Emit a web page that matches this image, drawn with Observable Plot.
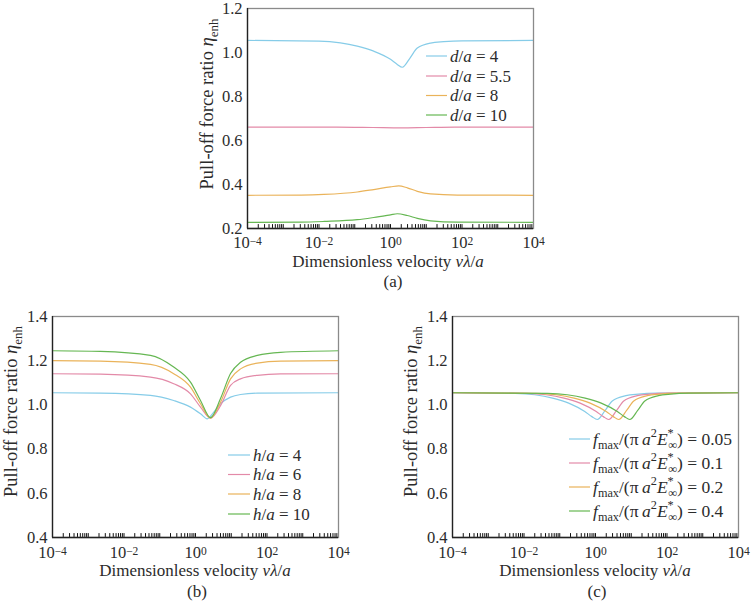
<!DOCTYPE html>
<html><head><meta charset="utf-8">
<script src="https://cdn.jsdelivr.net/npm/d3@7"></script>
<script src="https://cdn.jsdelivr.net/npm/@observablehq/plot@0.6"></script>
<style>
body{margin:0;background:#fff;}
#fig{position:relative;width:755px;height:603px;overflow:hidden;background:#fff;}
#fig svg{position:absolute;}
</style></head><body><div id="fig"></div>
<script>
// ---------- data ----------
const xTicks = [1e-4, 1e-2, 1, 1e2, 1e4];
const yTicksA = [0.2, 0.4, 0.6, 0.8, 1.0, 1.2];
const yTicksBC = [0.4, 0.6, 0.8, 1.0, 1.2, 1.4];
const seriesColors = ["#86cce8", "#e38aa8", "#eab35a", "#66b753"];

const legendA = ["4", "5.5", "8", "10"];     // d/a
const legendB = ["4", "6", "8", "10"];       // h/a
const legendC = ["0.05", "0.1", "0.2", "0.4"]; // f_max/(pi a^2 E*_inf)

// panel (a): [log10(v lambda / a), eta_enh]
const aD4  = [[-4,1.055],[-2,1.052],[-1.4,1.044],[-0.93,1.029],[-0.47,1.006],[0,0.969],[0.19,0.946],[0.33,0.933],[0.55,0.976],[0.75,1.02],[1.12,1.043],[1.49,1.049],[2,1.053],[4,1.055]];
const aD55 = [[-4,0.661],[-1.5,0.661],[-0.5,0.659],[0.3,0.657],[1,0.659],[1.8,0.661],[4,0.661]];
const aD8  = [[-4,0.351],[-2.5,0.352],[-1.86,0.355],[-0.93,0.366],[-0.47,0.377],[0,0.389],[0.23,0.394],[0.47,0.385],[0.75,0.369],[1.12,0.357],[1.87,0.352],[4,0.351]];
const aD10 = [[-4,0.228],[-2.5,0.229],[-1.86,0.232],[-0.93,0.24],[-0.47,0.25],[0,0.262],[0.19,0.267],[0.47,0.259],[0.75,0.246],[1.12,0.235],[1.87,0.229],[4,0.228]];

// panel (b)
const bH4  = [[-4,1.055],[-2.66,1.053],[-1.26,1.043],[-0.61,1.02],[-0.14,0.99],[0.14,0.96],[0.33,0.937],[0.5,0.965],[0.7,1.005],[0.98,1.035],[1.26,1.047],[1.73,1.053],[4,1.055]];
const bH6  = [[-4,1.141],[-2.66,1.139],[-1.26,1.126],[-0.61,1.096],[-0.14,1.05],[0.14,0.99],[0.42,0.94],[0.7,0.997],[0.98,1.088],[1.26,1.118],[1.73,1.134],[2.38,1.14],[4,1.141]];
const bH8  = [[-4,1.2],[-2.66,1.198],[-1.26,1.183],[-0.61,1.141],[-0.14,1.08],[0.14,1.005],[0.42,0.94],[0.7,1.012],[0.98,1.118],[1.26,1.163],[1.73,1.189],[2.38,1.198],[4,1.2]];
const bH10 = [[-4,1.245],[-2.66,1.242],[-1.26,1.224],[-0.61,1.171],[-0.14,1.103],[0.14,1.02],[0.42,0.942],[0.7,1.029],[0.98,1.142],[1.26,1.193],[1.73,1.224],[2.38,1.238],[4,1.245]];

// panel (c)
const cF005 = [[-4,1.055],[-2.25,1.052],[-1.7,1.046],[-1.2,1.031],[-0.75,1.008],[-0.3,0.97],[-0.1,0.947],[0.05,0.934],[0.27,0.975],[0.47,1.018],[0.85,1.042],[1.2,1.049],[1.7,1.053],[4,1.055]];
const cF01  = [[-4,1.055],[-1.93,1.052],[-1.38,1.046],[-0.88,1.031],[-0.43,1.008],[0.02,0.97],[0.22,0.947],[0.37,0.934],[0.59,0.975],[0.79,1.018],[1.17,1.042],[1.52,1.049],[2.02,1.053],[4,1.055]];
const cF02  = [[-4,1.055],[-1.65,1.052],[-1.1,1.046],[-0.6,1.031],[-0.15,1.008],[0.3,0.97],[0.5,0.947],[0.65,0.934],[0.87,0.975],[1.07,1.018],[1.45,1.042],[1.8,1.049],[2.3,1.053],[4,1.055]];
const cF04  = [[-4,1.055],[-1.34,1.052],[-0.79,1.046],[-0.29,1.031],[0.16,1.008],[0.61,0.97],[0.81,0.947],[0.96,0.934],[1.18,0.975],[1.38,1.018],[1.76,1.042],[2.11,1.049],[2.61,1.053],[4,1.055]];

// ---------- helpers ----------
const FONT = "'Liberation Serif', 'Times New Roman', serif";
const TXT = "#2b2b2b";
const toRows = (list, names) => list.flatMap((pts, i) => pts.map(([lx, y]) => ({x: Math.pow(10, lx), y, s: names[i]})));

function rich(sel, x, y, segs, {anchor = "start", size = 17, rotate = 0} = {}) {
  const t = sel.append("text")
    .attr("transform", `translate(${x},${y}) rotate(${rotate})`)
    .attr("text-anchor", anchor).attr("font-size", size)
    .attr("font-family", FONT).attr("fill", TXT);
  let cur = 0;
  for (const s of segs) {
    const shift = s.sup ? -0.42 * size : s.sub ? 0.28 * size : 0;
    const ts = t.append("tspan").text(s.t).attr("dy", shift - cur);
    if (s.i) ts.attr("font-style", "italic");
    if (s.sup || s.sub) ts.attr("font-size", size * 0.7);
    if (s.dx) ts.attr("dx", s.dx);
    cur = shift;
  }
  return t;
}

const minor = [];
for (let k = -4; k < 4; k++) for (let m = 1; m < 10; m++) if (!(k === -4 && m === 1)) minor.push(m * Math.pow(10, k));
const tickShape = {draw(context, l) { context.moveTo(0, 0); context.lineTo(0, -l); }};

function panel({left, top, width, height, ml, mr, mt, mb, pad, yDomain, yTicks, rows, names}) {
  const svg = Plot.plot({
    width, height, marginLeft: ml, marginRight: mr, marginTop: mt, marginBottom: mb,
    style: {fontFamily: FONT, fontSize: "16.5px", color: TXT, background: "white", overflow: "visible"},
    x: {type: "log", domain: [1e-4, 1e4], ticks: xTicks, tickSize: 0, tickPadding: pad, label: null,
        tickFormat: d => String(Math.round(Math.log10(d)))},
    y: {domain: yDomain, ticks: yTicks, tickSize: 0, tickPadding: 5, label: null, tickFormat: d => d.toFixed(1)},
    color: {domain: names, range: seriesColors},
    marks: [
      Plot.vector(minor, {x: d => d, frameAnchor: "bottom", length: 4, anchor: "start", rotate: 0, shape: tickShape, stroke: "#111", strokeWidth: 1}),
      Plot.line(rows, {x: "x", y: "y", stroke: "s", curve: "monotone-x", strokeWidth: 1.2}),
      Plot.frame({stroke: "#8a8a8a", strokeWidth: 1.3}),
      Plot.ruleX([1e-4], {stroke: "#222", strokeWidth: 1.3}),
      Plot.ruleY([yDomain[0]], {stroke: "#222", strokeWidth: 1.3})
    ]
  });
  svg.style.left = left + "px";
  svg.style.top = top + "px";
  document.getElementById("fig").appendChild(svg);
  const s = d3.select(svg);
  // superscript exponents for the x tick labels
  s.selectAll('g[aria-label="x-axis tick label"] text').each(function () {
    const e = this.textContent.replace("-", "\u2212");
    const t = d3.select(this);
    t.text("");
    t.append("tspan").text("10");
    t.append("tspan").text(e).attr("dy", "-0.3em").attr("font-size", "11.5px");
  });
  return s;
}

function legend(s, x0, x1, ys, texts, size = 17) {
  ys.forEach((y, i) => {
    s.append("line").attr("x1", x0).attr("x2", x1).attr("y1", y).attr("y2", y)
      .attr("stroke", seriesColors[i]).attr("stroke-width", 1.2);
    rich(s, x1 + 3, y + 5.5, texts[i], {size});
  });
}

const yLab = [{t: "Pull-off force ratio "}, {t: "η", i: 1}, {t: "enh", sub: 1}];
const xLab = [{t: "Dimensionless velocity "}, {t: "v", i: 1}, {t: "λ", i: 1}, {t: "/"}, {t: "a", i: 1}];
const EQ = "\u2005=\u2005";

// ---------- panel (a) ----------
const namesA = legendA.map(v => "d/a=" + v);
const sa = panel({left: 190, top: 0, width: 360, height: 295, ml: 57, mr: 17, mt: 8, mb: 67, pad: 8,
  yDomain: [0.2, 1.2], yTicks: yTicksA, rows: toRows([aD4, aD55, aD8, aD10], namesA), names: namesA});
rich(sa, 23, 104, yLab, {anchor: "middle", rotate: -90, size: 18.5});
rich(sa, 198, 267, xLab, {anchor: "middle", size: 17});
rich(sa, 203, 287, [{t: "(a)"}], {anchor: "middle", size: 17});
legend(sa, 236, 257, [56, 76, 95.5, 115],
  legendA.map(v => [{t: "d", i: 1}, {t: "/"}, {t: "a", i: 1}, {t: EQ + v}]));

// ---------- panel (b) ----------
const namesB = legendB.map(v => "h/a=" + v);
const sb = panel({left: 0, top: 300, width: 380, height: 303, ml: 52, mr: 42, mt: 16, mb: 66, pad: 9,
  yDomain: [0.4, 1.4], yTicks: yTicksBC, rows: toRows([bH4, bH6, bH8, bH10], namesB), names: namesB});
rich(sb, 17, 111.5, yLab, {anchor: "middle", rotate: -90, size: 18.5});
rich(sb, 195, 276, xLab, {anchor: "middle", size: 17});
rich(sb, 197, 297, [{t: "(b)"}], {anchor: "middle", size: 17});
legend(sb, 228, 250, [155, 174.5, 194, 214],
  legendB.map(v => [{t: "h", i: 1}, {t: "/"}, {t: "a", i: 1}, {t: EQ + v}]));

// ---------- panel (c) ----------
const namesC = legendC.map(v => "f=" + v);
const sc = panel({left: 380, top: 300, width: 375, height: 303, ml: 72, mr: 17, mt: 16, mb: 66, pad: 9,
  yDomain: [0.4, 1.4], yTicks: yTicksBC, rows: toRows([cF005, cF01, cF02, cF04], namesC), names: namesC});
rich(sc, 37, 111.5, yLab, {anchor: "middle", rotate: -90, size: 18.5});
rich(sc, 215, 276, xLab, {anchor: "middle", size: 17});
rich(sc, 217, 297, [{t: "(c)"}], {anchor: "middle", size: 17});
legend(sc, 189, 210, [139, 163, 187, 211],
  legendC.map(v => [{t: "f", i: 1}, {t: "max", sub: 1}, {t: "/(π\u2009"}, {t: "a", i: 1}, {t: "2", sup: 1},
    {t: "E", i: 1}, {t: "*", sup: 1}, {t: "∞", sub: 1, dx: -5.5}, {t: ")" + EQ + v}]), 17.5);
</script>
</body></html>
